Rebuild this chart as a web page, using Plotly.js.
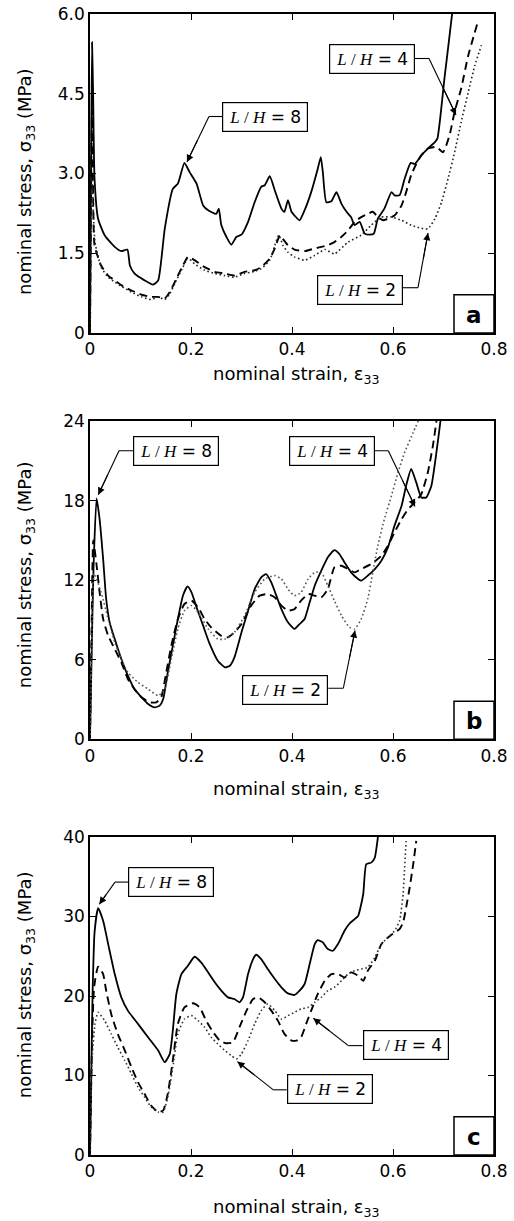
<!DOCTYPE html>
<html>
<head>
<meta charset="utf-8">
<script src="https://cdn.plot.ly/plotly-3.0.1.min.js"></script>
<style>html,body{margin:0;padding:0;background:#fff;}#chart{width:514px;height:1221px;}</style>
</head>
<body>
<div id="chart"></div>
<script>
// ---------------- DATA ----------------
const strainTicks = [0, 0.2, 0.4, 0.6, 0.8];
const strainTickText = ['0', '0.2', '0.4', '0.6', '0.8'];
const stressTicksA = [0, 1.5, 3.0, 4.5, 6.0];
const stressTickTextA = ['0', '1.5', '3.0', '4.5', '6.0'];
const stressTicksB = [0, 6, 12, 18, 24];
const stressTickTextB = ['0', '6', '12', '18', '24'];
const stressTicksC = [0, 10, 20, 30, 40];
const stressTickTextC = ['0', '10', '20', '30', '40'];
const seriesNames = ['L/H = 8', 'L/H = 4', 'L/H = 2'];
const panelLabels = ['a', 'b', 'c'];

// Panel a
const strainA8 = [0,0.002,0.004,0.006,0.009,0.016,0.029,0.049,0.062,0.074,0.079,0.088,0.108,0.125,0.135,0.148,0.164,0.174,0.187,0.197,0.211,0.224,0.234,0.250,0.255,0.260,0.270,0.280,0.290,0.300,0.313,0.326,0.339,0.346,0.356,0.366,0.379,0.385,0.392,0.399,0.405,0.415,0.425,0.438,0.451,0.457,0.461,0.468,0.478,0.488,0.498,0.508,0.517,0.524,0.534,0.544,0.554,0.562,0.570,0.583,0.597,0.603,0.613,0.623,0.635,0.643,0.656,0.669,0.683,0.688,0.702,0.717,0.722];
const stressA8 = [0,3.0,5.47,4.6,2.9,2.15,1.84,1.62,1.54,1.57,1.27,1.12,0.99,0.91,0.99,1.96,2.71,2.81,3.20,3.03,2.81,2.40,2.31,2.24,2.34,2.03,1.81,1.66,1.81,1.85,2.09,2.46,2.75,2.78,2.95,2.68,2.34,2.28,2.50,2.28,2.21,2.12,2.31,2.65,3.09,3.31,3.03,2.46,2.48,2.65,2.43,2.28,2.18,2.03,2.09,1.87,1.85,1.87,2.15,2.34,2.65,2.59,2.59,2.90,3.20,3.18,3.34,3.47,3.59,3.66,4.8,6.0,6.5];
const strainA4 = [0,0.002,0.004,0.006,0.009,0.022,0.036,0.049,0.062,0.082,0.102,0.121,0.135,0.148,0.158,0.171,0.184,0.194,0.207,0.227,0.247,0.267,0.286,0.306,0.326,0.339,0.356,0.366,0.376,0.382,0.392,0.405,0.425,0.445,0.458,0.471,0.484,0.498,0.511,0.524,0.537,0.550,0.560,0.570,0.580,0.590,0.603,0.617,0.626,0.636,0.646,0.656,0.669,0.686,0.699,0.712,0.722,0.735,0.749,0.767];
const stressA4 = [0,2.6,4.2,2.8,1.65,1.27,1.08,0.99,0.90,0.80,0.72,0.68,0.68,0.65,0.77,1.02,1.27,1.43,1.37,1.24,1.15,1.12,1.08,1.15,1.18,1.24,1.40,1.59,1.84,1.77,1.65,1.57,1.54,1.59,1.62,1.65,1.71,1.81,1.93,2.09,2.18,2.24,2.28,2.18,2.12,2.15,2.21,2.40,2.65,2.97,3.18,3.34,3.47,3.50,3.40,3.72,4.16,4.60,5.22,5.82];
const strainA2 = [0,0.002,0.004,0.007,0.010,0.022,0.036,0.049,0.062,0.082,0.102,0.121,0.135,0.148,0.158,0.171,0.184,0.194,0.207,0.227,0.247,0.267,0.286,0.306,0.326,0.339,0.356,0.366,0.374,0.382,0.392,0.405,0.425,0.445,0.465,0.484,0.511,0.537,0.557,0.577,0.597,0.617,0.636,0.656,0.669,0.683,0.696,0.709,0.722,0.735,0.749,0.762,0.775];
const stressA2 = [0,1.8,2.9,2.2,1.7,1.24,1.05,0.96,0.88,0.77,0.68,0.63,0.68,0.63,0.74,0.99,1.24,1.41,1.30,1.18,1.12,1.08,1.05,1.12,1.16,1.21,1.37,1.65,1.84,1.65,1.52,1.43,1.37,1.46,1.57,1.49,1.71,1.84,2.03,2.18,2.18,2.12,2.03,1.97,1.96,2.15,2.46,2.90,3.40,3.97,4.53,5.03,5.41];

// Panel b
const strainB8 = [0,0.003,0.007,0.013,0.019,0.026,0.032,0.039,0.049,0.062,0.075,0.088,0.102,0.115,0.128,0.138,0.145,0.154,0.164,0.174,0.184,0.193,0.201,0.211,0.224,0.237,0.253,0.267,0.277,0.286,0.300,0.313,0.326,0.339,0.349,0.359,0.369,0.379,0.392,0.405,0.415,0.425,0.435,0.445,0.458,0.471,0.484,0.494,0.504,0.517,0.531,0.537,0.550,0.564,0.577,0.590,0.603,0.617,0.626,0.636,0.646,0.656,0.666,0.676,0.686,0.694,0.697];
const stressB8 = [0,6,13,18.17,16.6,13.6,10.6,8.8,7.56,6.06,4.80,3.79,3.17,2.66,2.41,2.54,3.04,5.05,7.06,9.07,10.83,11.53,11.08,9.95,8.57,7.19,5.93,5.43,5.55,6.18,8.07,9.70,11.33,12.21,12.46,11.83,10.83,9.82,8.82,8.32,8.69,9.07,10.33,11.58,12.71,13.72,14.27,13.97,13.34,12.59,12.09,11.96,12.34,12.84,13.47,14.47,16.11,17.61,19.12,20.38,19.37,18.24,18.24,19.12,21.63,24,25];
const strainB4 = [0,0.003,0.0065,0.0125,0.019,0.026,0.036,0.049,0.062,0.075,0.088,0.102,0.118,0.131,0.141,0.151,0.161,0.174,0.187,0.201,0.214,0.227,0.240,0.260,0.273,0.286,0.300,0.319,0.336,0.352,0.366,0.379,0.392,0.405,0.418,0.432,0.445,0.458,0.471,0.484,0.498,0.511,0.524,0.537,0.557,0.577,0.590,0.603,0.617,0.630,0.643,0.656,0.669,0.679,0.686,0.688];
const stressB4 = [0,8,15.0,13.3,11.1,9.07,7.81,6.81,5.80,4.55,3.79,3.17,2.79,2.79,3.17,5.05,7.06,9.07,10.20,10.45,9.95,9.07,8.44,7.81,7.69,8.07,8.69,10.08,10.83,10.95,10.70,10.08,9.70,9.82,10.45,10.95,10.83,10.70,11.33,12.96,13.09,12.84,12.59,12.84,13.22,13.84,14.60,15.6,16.6,17.36,17.86,18.49,20.13,22.14,24,24.8];
const strainB2 = [0,0.003,0.008,0.022,0.036,0.049,0.062,0.075,0.095,0.115,0.135,0.148,0.161,0.174,0.187,0.201,0.214,0.234,0.253,0.267,0.286,0.306,0.326,0.346,0.366,0.379,0.392,0.405,0.418,0.432,0.445,0.458,0.471,0.484,0.498,0.514,0.524,0.537,0.550,0.560,0.570,0.583,0.597,0.610,0.623,0.640,0.650];
const stressB2 = [0,6,12.5,11.08,9.07,7.31,6.06,5.05,4.30,3.79,3.29,3.79,6.06,8.32,9.70,10.08,9.57,8.32,7.56,7.56,8.07,9.32,11.08,12.09,12.34,12.09,11.33,10.83,11.08,12.09,12.59,12.59,11.58,10.45,9.32,8.44,8.32,9.07,10.58,12.59,14.60,16.61,18.37,20.13,21.63,23.14,24];

// Panel c
const strainC8 = [0,0.002,0.005,0.009,0.016,0.026,0.036,0.049,0.062,0.075,0.095,0.115,0.135,0.148,0.158,0.164,0.171,0.181,0.194,0.207,0.220,0.234,0.247,0.260,0.273,0.286,0.296,0.303,0.313,0.323,0.329,0.339,0.352,0.366,0.379,0.392,0.405,0.415,0.425,0.435,0.445,0.451,0.461,0.471,0.481,0.491,0.504,0.514,0.524,0.531,0.541,0.547,0.557,0.564,0.570,0.572];
const stressC8 = [0,8,20,28,31.05,29.46,26.53,22.76,19.83,18.16,16.49,14.81,13.14,11.67,12.72,15.65,20.25,22.76,23.81,24.94,24.23,22.97,21.72,20.67,19.83,19.62,19.21,19.83,22.76,24.64,25.19,24.64,23.39,22.13,21.09,20.33,20.13,20.67,21.51,24.02,26.53,27.03,26.74,25.90,25.69,26.53,28.20,29.12,29.67,30.08,32.80,36.57,36.78,37.41,39.92,41];
const strainC4 = [0,0.004,0.008,0.016,0.026,0.032,0.042,0.055,0.069,0.082,0.095,0.108,0.121,0.135,0.145,0.154,0.164,0.174,0.187,0.204,0.217,0.230,0.244,0.257,0.270,0.283,0.296,0.310,0.323,0.333,0.346,0.359,0.372,0.385,0.399,0.409,0.418,0.428,0.438,0.451,0.465,0.478,0.491,0.504,0.517,0.531,0.541,0.550,0.564,0.577,0.590,0.603,0.613,0.620,0.626,0.633,0.640,0.646];
const stressC4 = [0,14,21,23.7,22.76,20.67,17.74,15.23,13.14,11.05,9.16,7.70,6.23,5.40,5.61,7.70,11.88,16.49,18.58,19.08,18.58,16.90,15.44,14.39,14.06,14.18,16.07,18.16,19.62,19.83,19.21,18.16,16.90,15.23,14.39,14.39,14.81,16.49,18.16,20.25,21.92,22.76,22.76,22.34,22.97,22.55,21.92,23.18,24.43,26.53,27.36,27.99,28.41,29.25,31.13,33.64,36.57,39.50];
const strainC2 = [0,0.004,0.010,0.016,0.029,0.042,0.055,0.069,0.082,0.095,0.108,0.121,0.135,0.145,0.154,0.164,0.174,0.187,0.201,0.214,0.227,0.240,0.253,0.267,0.280,0.290,0.300,0.313,0.326,0.339,0.352,0.366,0.379,0.392,0.405,0.418,0.432,0.445,0.458,0.471,0.484,0.498,0.511,0.524,0.537,0.550,0.564,0.577,0.590,0.603,0.613,0.620,0.623,0.626];
const stressC2 = [0,12,16.5,17.95,16.90,15.23,13.56,11.88,10.21,8.54,7.28,6.03,5.40,5.40,7.28,11.05,15.23,17.11,17.53,16.90,16.07,14.81,13.97,13.14,12.51,12.09,12.72,14.39,16.49,18.16,19.00,18.16,17.11,17.53,17.95,18.37,18.58,19.21,19.83,20.67,21.09,21.92,22.76,23.18,23.39,23.60,24.85,26.53,27.36,28.20,29.46,32.80,36.15,39.50];

// ---------------- STYLE / LAYOUT ----------------
const FONT = 'DejaVu Sans, Arial, sans-serif';
const styles = [
  {color:'#000', width:1.8, dash:'solid'},
  {color:'#000', width:1.9, dash:'8px,5px'},
  {color:'#222', width:1.6, dash:'1.6px,2.6px'}
];
const dotColors = ['#222', '#555', '#333'];
const panels = [
  {x:[strainA8,strainA4,strainA2], y:[stressA8,stressA4,stressA2], xa:'x', ya:'y'},
  {x:[strainB8,strainB4,strainB2], y:[stressB8,stressB4,stressB2], xa:'x2', ya:'y2'},
  {x:[strainC8,strainC4,strainC2], y:[stressC8,stressC4,stressC2], xa:'x3', ya:'y3'}
];
const traces = [];
panels.forEach((p, k) => {
  for (let i = 0; i < 3; i++) {
    traces.push({x:p.x[i], y:p.y[i], xaxis:p.xa, yaxis:p.ya, type:'scatter', mode:'lines',
      name:seriesNames[i], line:{color:(i === 2 ? dotColors[k] : styles[i].color), width:styles[i].width, dash:styles[i].dash, shape:'spline', smoothing:0.5},
      showlegend:false, hoverinfo:'skip'});
  }
});

function xAxis(anchor) {
  return {range:[0,0.8], domain:[0,1], anchor:anchor, tickvals:strainTicks, ticktext:strainTickText,
    ticks:'inside', ticklen:6, tickwidth:1, tickcolor:'#000', showline:true, linewidth:1.8, linecolor:'#000',
    mirror:'ticks', showgrid:false, zeroline:false, tickfont:{family:FONT, size:17, color:'#000'}};
}
function yAxis(anchor, dom, rng, tv, tt) {
  return {range:rng, domain:dom, anchor:anchor, tickvals:tv, ticktext:tt,
    ticks:'inside', ticklen:6, tickwidth:1, tickcolor:'#000', showline:true, linewidth:1.8, linecolor:'#000',
    mirror:'ticks', showgrid:false, zeroline:false, tickfont:{family:FONT, size:17, color:'#000'}};
}

const annotations = [];
const shapes = [];

// axis titles
const xTitleY = [0.6836, 0.3199, -0.0464];
const yTitleY = [0.8528, 0.5083, 0.1490];
for (let k = 0; k < 3; k++) {
  annotations.push({xref:'paper', yref:'paper', x:0.512, y:xTitleY[k], xanchor:'center', yanchor:'middle',
    text:'nominal strain, ε<sub>33</sub>', showarrow:false, font:{family:FONT, size:18, color:'#000'}});
  annotations.push({xref:'paper', yref:'paper', x:-0.158, y:yTitleY[k], xanchor:'center', yanchor:'middle',
    textangle:-90, text:'nominal stress, σ<sub>33</sub> (MPa)', showarrow:false, font:{family:FONT, size:18, color:'#000'}});
}

// panel letter boxes
const axNames = [['x','y'],['x2','y2'],['x3','y3']];
for (let k = 0; k < 3; k++) {
  const [xa, ya] = axNames[k];
  shapes.push({type:'rect', xref:xa+' domain', yref:ya+' domain', x0:0.901, x1:1, y0:0, y1:0.12,
    line:{color:'#000', width:1.5}, fillcolor:'#fff', layer:'above'});
  annotations.push({xref:xa+' domain', yref:ya+' domain', x:0.9505, y:0.058, xanchor:'center', yanchor:'middle',
    text:'<b>'+panelLabels[k]+'</b>', showarrow:false, font:{family:FONT, size:23, color:'#000'}});
}

// L/H labels: [panel, seriesIndex, boxX, boxY, edgeX, bendX, bendY, tipX, tipY]
const labelDefs = [
  [0,0, 0.3475,4.072, 0.2634,0.2356,4.072, 0.192,3.216],
  [0,1, 0.5580,5.163, 0.6436,0.6713,5.163, 0.7248,4.100],
  [0,2, 0.5337,0.800, 0.6178,0.6495,0.852, 0.6693,1.881],
  [1,0, 0.1693,21.76, 0.0851,0.0574,21.76, 0.0164,18.44],
  [1,1, 0.4786,21.76, 0.5638,0.5907,21.76, 0.6436,17.55],
  [1,2, 0.3871,3.71, 0.4719,0.5016,3.85, 0.5248,8.20],
  [2,0, 0.1598,34.33, 0.0752,0.0495,34.33, 0.0184,31.54],
  [2,1, 0.6248,13.78, 0.5400,0.5115,13.76, 0.4422,17.20],
  [2,2, 0.4747,8.26, 0.3895,0.3630,8.20, 0.2917,11.75]
];
const ratio = ['8','4','2'];
labelDefs.forEach(d => {
  const [k, s, bx, by, ex, kx, ky, tx, ty] = d;
  const [xa, ya] = axNames[k];
  annotations.push({xref:xa, yref:ya, x:bx, y:by, xanchor:'center', yanchor:'middle', showarrow:false,
    text:'<span style="font-family:\'Liberation Serif\',serif"><i>L</i> / <i>H</i></span> = '+ratio[s],
    font:{family:FONT, size:17, color:'#000'}, bgcolor:'#fff', bordercolor:'#000', borderwidth:1.2,
    borderpad:2, width:80, height:24});
  shapes.push({type:'line', xref:xa, yref:ya, x0:ex, y0:ky, x1:kx, y1:ky, line:{color:'#000', width:1.1}});
  shapes.push({type:'line', xref:xa, yref:ya, x0:kx, y0:ky, x1:tx, y1:ty, line:{color:'#000', width:1.1}});
  annotations.push({xref:xa, yref:ya, x:tx, y:ty, axref:xa, ayref:ya, ax:(kx+tx)/2, ay:(ky+ty)/2, text:'',
    showarrow:true, arrowhead:2, arrowsize:1.3, arrowwidth:1.1, arrowcolor:'#000', standoff:0});
});

const layout = {
  width:514, height:1221,
  margin:{l:90, r:20, t:14, b:66},
  paper_bgcolor:'#fff', plot_bgcolor:'#fff',
  showlegend:false,
  xaxis: xAxis('y'),
  yaxis: yAxis('x', [0.7204, 1], [0,6], stressTicksA, stressTickTextA),
  xaxis2: xAxis('y2'),
  yaxis2: yAxis('x2', [0.3643, 0.6433], [0,24], stressTicksB, stressTickTextB),
  xaxis3: xAxis('y3'),
  yaxis3: yAxis('x3', [0, 0.2787], [0,40], stressTicksC, stressTickTextC),
  annotations: annotations,
  shapes: shapes
};

Plotly.newPlot('chart', traces, layout, {staticPlot:true, displayModeBar:false});
</script>
</body>
</html>
